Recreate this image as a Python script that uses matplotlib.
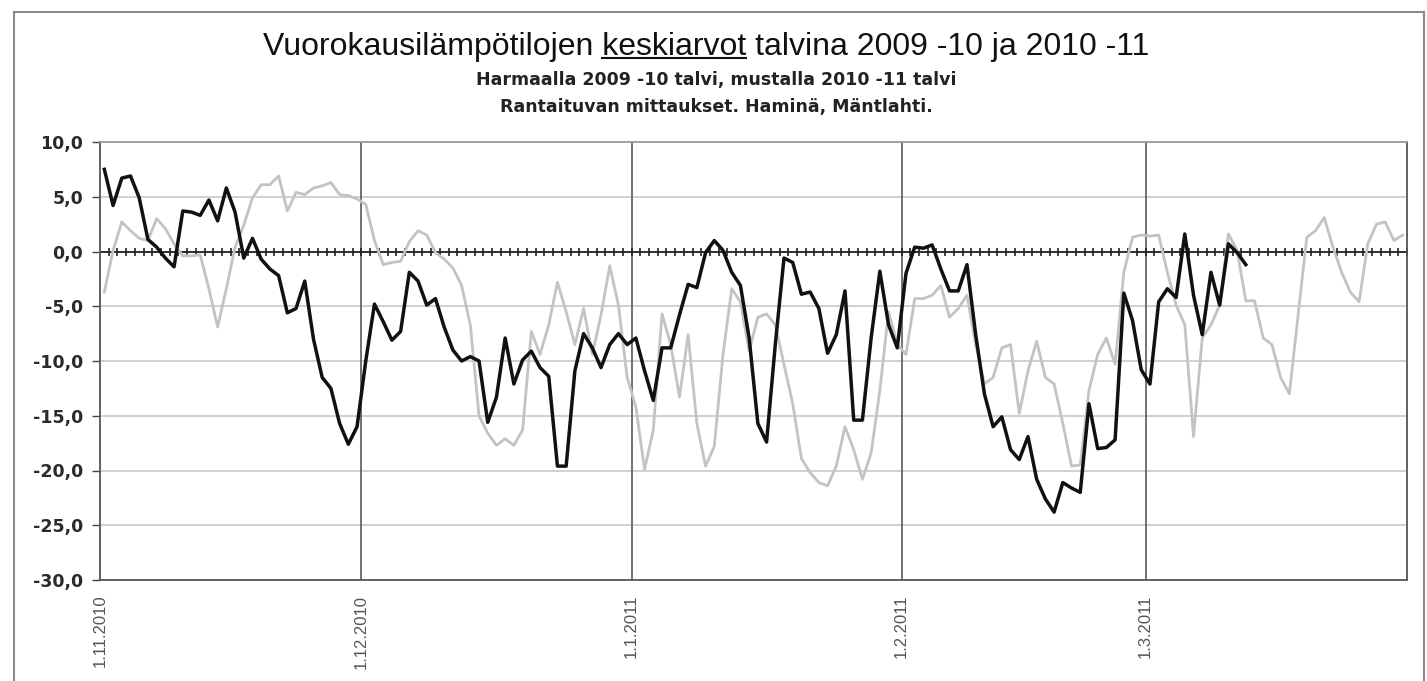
import matplotlib
matplotlib.use("Agg")
import matplotlib.pyplot as plt
from matplotlib.lines import Line2D
from matplotlib.patches import Rectangle
import numpy as np

# vuorokauden keskilämpötilat, päivä 0 = 1.11.
talvi_2010_11 = [
    7.5, 4.2, 6.7, 6.9, 4.9, 1.1, 0.4, -0.6, -1.4, 3.7,
    3.6, 3.3, 4.7, 2.8, 5.8, 3.6, -0.6, 1.2, -0.7, -1.6,
    -2.2, -5.6, -5.2, -2.7, -8.0, -11.5, -12.5, -15.7, -17.6, -16.0,
    -10.0, -4.8, -6.4, -8.1, -7.3, -1.9, -2.7, -4.9, -4.3, -6.9,
    -9.0, -10.0, -9.6, -10.0, -15.6, -13.3, -7.9, -12.1, -9.9, -9.1,
    -10.6, -11.4, -19.6, -19.6, -10.9, -7.5, -8.8, -10.6, -8.5, -7.5,
    -8.5, -7.9, -10.9, -13.6, -8.8, -8.8, -5.8, -3.0, -3.3, -0.1,
    1.0, 0.1, -1.9, -3.1, -7.9, -15.7, -17.4, -8.5, -0.6, -1.0,
    -3.9, -3.7, -5.2, -9.3, -7.6, -3.6, -15.4, -15.4, -7.9, -1.8,
    -6.7, -8.8, -2.0, 0.4, 0.3, 0.6, -1.6, -3.6, -3.6, -1.2,
    -7.6, -13.0, -16.0, -15.1, -18.1, -19.0, -16.9, -20.8, -22.6, -23.8,
    -21.1, -21.6, -22.0, -13.9, -18.0, -17.9, -17.2, -3.8, -6.3, -10.8,
    -12.1, -4.6, -3.4, -4.2, 1.6, -4.0, -7.6, -1.9, -4.9, 0.7,
    -0.1, -1.2,
]

talvi_2009_10 = [
    -3.7, 0.1, 2.7, 1.9, 1.2, 1.0, 3.0, 2.1, 0.7, -0.4,
    -0.4, -0.3, -3.4, -6.9, -3.4, 0.4, 2.4, 4.9, 6.1, 6.1,
    6.9, 3.7, 5.4, 5.2, 5.8, 6.0, 6.3, 5.2, 5.1, 4.8,
    4.3, 1.0, -1.2, -1.0, -0.9, 0.9, 1.9, 1.5, -0.1, -0.7,
    -1.5, -3.1, -6.7, -15.0, -16.6, -17.7, -17.1, -17.7, -16.3, -7.3,
    -9.4, -6.7, -2.8, -5.5, -8.5, -5.2, -9.4, -5.8, -1.3, -4.9,
    -11.5, -14.2, -19.9, -16.3, -5.7, -8.5, -13.3, -7.6, -15.7, -19.6,
    -17.8, -9.4, -3.4, -4.6, -9.1, -6.0, -5.7, -6.7, -10.3, -13.9,
    -18.9, -20.2, -21.1, -21.4, -19.6, -16.0, -18.1, -20.8, -18.4, -12.7,
    -5.5, -8.5, -9.4, -4.3, -4.3, -4.0, -3.1, -6.0, -5.2, -4.0,
    -8.5, -12.1, -11.5, -8.8, -8.5, -14.8, -10.9, -8.2, -11.5, -12.1,
    -15.7, -19.6, -19.5, -12.7, -9.4, -7.9, -10.3, -1.9, 1.3, 1.5,
    1.4, 1.5, -1.9, -4.9, -6.7, -16.9, -7.9, -6.7, -4.9, 1.6,
    0.1, -4.5, -4.5, -7.9, -8.5, -11.5, -13.0, -5.8, 1.3, 1.9,
    3.1, 0.4, -1.9, -3.7, -4.6, 0.7, 2.5, 2.7, 1.0, 1.5,
]

kuukauden_alku = [0, 30, 61, 92, 120]
kuukausi_nimet = ["1.11.2010", "1.12.2010", "1.1.2011", "1.2.2011", "1.3.2011"]

otsikko_alku = "Vuorokausilämpötilojen "
otsikko_alleviivattu = "keskiarvot"
otsikko_loppu = " talvina 2009 -10 ja 2010 -11"
alaotsikko1 = "Harmaalla 2009 -10 talvi, mustalla 2010 -11 talvi"
alaotsikko2 = "Rantaituvan mittaukset. Haminä, Mäntlahti."

plt.rcParams["font.family"] = ["Liberation Sans", "DejaVu Sans"]

W, H = 1427, 681
fig = plt.figure(figsize=(W / 100, H / 100), dpi=100)

# kaavion reunus
fig.patches.append(Rectangle((14 / W, -0.05), (1424 - 14) / W, 1.05 - 12 / H,
                             transform=fig.transFigure, fill=False,
                             edgecolor="#8a8a8a", linewidth=1.5))

ax = fig.add_axes([100 / W, 1 - 580 / H, (1407 - 100) / W, (580 - 142) / H])

n_paivat = len(talvi_2009_10)
ax.set_xlim(-0.5, n_paivat - 0.5)
ax.set_ylim(-30, 10)

# vaakaviivat
for y in np.arange(-25, 10, 5):
    ax.axhline(y, color="#c8c8c8", linewidth=1.2, zorder=1)
# kuukausien rajat
rajat = [k - 0.5 for k in kuukauden_alku]
for x in rajat[1:]:
    ax.axvline(x, color="#5a5a5a", linewidth=1.2, zorder=1)

# nollaviiva jossa päivittäiset merkit
ax.axhline(0, color="#222222", linewidth=1.3, zorder=2)
paivarajat = np.arange(n_paivat) + 0.5
ax.plot(paivarajat, np.zeros(n_paivat), linestyle="none", marker="|",
        markersize=6, markeredgewidth=1.2, color="#222222", zorder=2)

ax.plot(range(len(talvi_2009_10)), talvi_2009_10, color="#c3c3c3",
        linewidth=2.0, zorder=3)
ax.plot(range(len(talvi_2010_11)), talvi_2010_11, color="#111111",
        linewidth=2.5, zorder=4)

ax.set_yticks(np.arange(-30, 11, 5))
ax.set_yticklabels([f"{v:.1f}".replace(".", ",") for v in np.arange(-30, 11, 5)],
                   fontsize=12.5, fontweight="bold", family="DejaVu Sans",
                   color="#2a2a2a")
ax.set_xticks(rajat)
ax.set_xticklabels(kuukausi_nimet, rotation=90, fontsize=12, color="#555555")
ax.tick_params(axis="y", length=6, width=1, color="#444444", pad=6)
ax.tick_params(axis="x", length=0, pad=10.5)

for s in ["left", "bottom", "right"]:
    ax.spines[s].set_color("#555555")
    ax.spines[s].set_linewidth(1.3)
ax.spines["top"].set_color("#9a9a9a")
ax.spines["top"].set_linewidth(1.3)

# otsikko, jossa yksi sana alleviivattu
otsikko = otsikko_alku + otsikko_alleviivattu + otsikko_loppu
tyyli = dict(fontsize=23, color="#111111")
y_perus = 1 - 55 / H
t = fig.text(706 / W, y_perus, otsikko, ha="center", va="baseline", **tyyli)
renderer = fig.canvas.get_renderer()
bb = t.get_window_extent(renderer)


def leveys(teksti):
    apu = fig.text(0, 0, teksti, **tyyli)
    w = apu.get_window_extent(renderer).width
    apu.remove()
    return w


loppu = bb.x0 + leveys(otsikko_alku + otsikko_alleviivattu)
alku = loppu - leveys(otsikko_alleviivattu)
y_viiva = y_perus * H - 3
fig.lines.append(Line2D([alku / W, loppu / W], [y_viiva / H, y_viiva / H],
                        transform=fig.transFigure, color="#111111", linewidth=1.5))

fig.text(716 / W, 1 - 80 / H, alaotsikko1, ha="center", va="center",
         fontsize=12.5, fontweight="bold", family="DejaVu Sans", color="#222222")
fig.text(716 / W, 1 - 107 / H, alaotsikko2, ha="center", va="center",
         fontsize=12.5, fontweight="bold", family="DejaVu Sans", color="#222222")

fig.savefig("out.png", dpi=100)
